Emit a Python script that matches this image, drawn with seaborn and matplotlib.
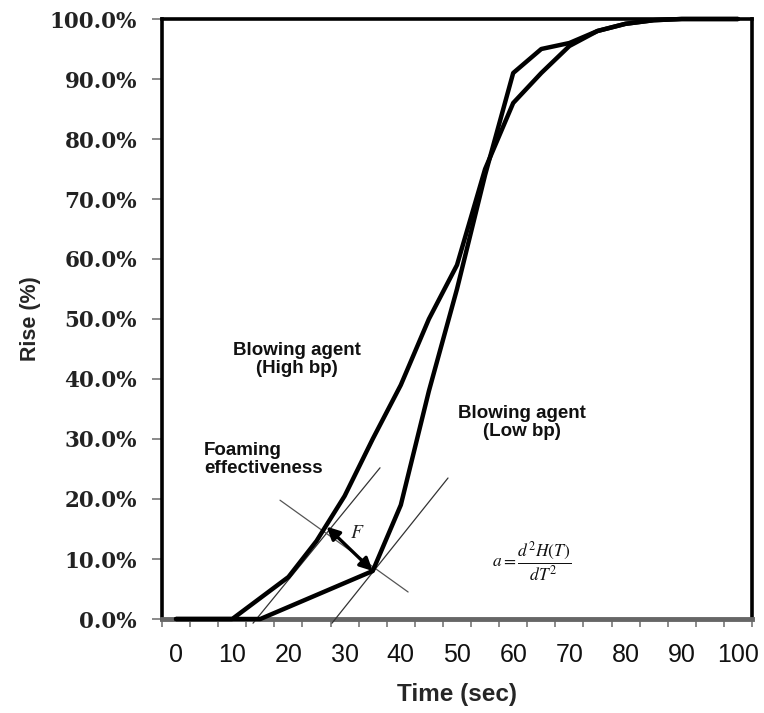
import numpy as np
import pandas as pd
import seaborn as sns
import matplotlib
matplotlib.use("Agg")
import matplotlib.pyplot as plt
from matplotlib.ticker import PercentFormatter, FixedLocator

# ---- data ----
time_sec = [0, 5, 10, 15, 20, 25, 30, 35, 40, 45, 50, 55, 60, 65, 70, 75, 80, 85, 90, 95, 100]
rise_high_bp = [0, 0, 0, 3.5, 7, 13, 20.5, 30, 39, 50, 59, 75, 86, 91, 95.5, 98, 99.2, 99.8, 100, 100, 100]
rise_low_bp = [0, 0, 0, 0, 2, 4, 6, 8, 19, 38, 55, 74, 91, 95, 96, 98, 99.2, 99.8, 100, 100, 100]
x_tick_labels = ["0", "10", "20", "30", "40", "50", "60", "70", "80", "90", "100"]
y_ticks = [0, 10, 20, 30, 40, 50, 60, 70, 80, 90, 100]

# annotation geometry (data units: seconds, %)
tangent_high_x = [13.7, 36.3]
tangent_high_y = [-0.7, 25.2]
tangent_low_x = [27.75, 48.4]
tangent_low_y = [-0.7, 23.5]
normal_x = [18.5, 41.3]
normal_y = [19.8, 4.5]
arrow_start = (26.8, 15.4)
arrow_end = (35.0, 8.0)

df = pd.DataFrame({
    "Time": time_sec * 2,
    "Rise": rise_high_bp + rise_low_bp,
    "Agent": ["High bp"] * len(time_sec) + ["Low bp"] * len(time_sec),
})

sns.set_theme(style="white")
plt.rcParams["font.family"] = ["Liberation Sans", "DejaVu Sans"]

fig = plt.figure(figsize=(7.64, 7.13), dpi=100)
ax = fig.add_axes([162 / 764, 1 - 619 / 713, 590 / 764, 600 / 713])

sns.lineplot(data=df, x="Time", y="Rise", hue="Agent", palette=["black", "black"],
             linewidth=3.2, legend=False, ax=ax, clip_on=False, zorder=5)
for ln in ax.get_lines():
    ln.set_solid_capstyle("round")
    ln.set_solid_joinstyle("round")

# tangent and normal lines
ax.plot(tangent_high_x, tangent_high_y, color="#333333", lw=0.9, clip_on=False, zorder=3)
ax.plot(tangent_low_x, tangent_low_y, color="#333333", lw=0.9, clip_on=False, zorder=3)
ax.plot(normal_x, normal_y, color="#555555", lw=0.9, zorder=3)
ax.annotate("", xy=arrow_end, xytext=arrow_start,
            arrowprops=dict(arrowstyle="<|-|>", color="black", lw=2.4,
                            mutation_scale=19, shrinkA=0, shrinkB=0), zorder=6)

# texts
ax.text(21.5, 43.2, "Blowing agent\n(High bp)", ha="center", va="center",
        fontsize=13.5, fontweight="bold", color="#111111", linespacing=1.1)
ax.text(61.6, 32.7, "Blowing agent\n(Low bp)", ha="center", va="center",
        fontsize=13.5, fontweight="bold", color="#111111", linespacing=1.1)
ax.text(5.0, 26.6, "Foaming\neffectiveness", ha="left", va="center",
        fontsize=13.5, fontweight="bold", color="#111111", linespacing=1.1)
ax.text(32.2, 14.2, "$F$", ha="center", va="center", fontsize=14,
        math_fontfamily="stix", color="#222222")
ax.text(56.3, 9.6, r"$a=\dfrac{d^2H(T)}{dT^2}$", ha="left", va="center",
        fontsize=12.5, color="#111111", math_fontfamily="stix")

# axes limits and ticks
ax.set_xlim(-2.5, 102.5)
ax.set_ylim(0, 100)
ax.xaxis.set_major_locator(FixedLocator(list(range(0, 101, 10))))
ax.set_xticklabels(x_tick_labels)
ax.xaxis.set_minor_locator(FixedLocator(list(np.arange(-2.5, 103, 5))))
ax.set_yticks(y_ticks)
ax.yaxis.set_major_formatter(PercentFormatter(100, decimals=1))

ax.tick_params(axis="x", which="major", length=0, pad=17)
ax.tick_params(axis="x", which="minor", length=6, width=1.2, color="#777777", direction="out", bottom=True)
ax.tick_params(axis="y", which="major", length=7, width=1.2, color="#777777", direction="out", left=True, pad=11)

for lab in ax.get_xticklabels():
    lab.set_family(["Liberation Sans Narrow", "Liberation Sans", "DejaVu Sans"])
    lab.set_fontsize(18)
    lab.set_color("#111111")
for lab in ax.get_yticklabels():
    lab.set_family(["DejaVu Serif"])
    lab.set_fontweight("bold")
    lab.set_fontsize(15.5)
    lab.set_color("#222222")

ax.set_xlabel("Time (sec)", fontsize=17.5, fontweight="bold", labelpad=12,
              family=["Liberation Sans Narrow", "Liberation Sans", "DejaVu Sans"])
ax.set_ylabel("Rise (%)", fontsize=15.5, fontweight="bold", labelpad=6)

for side in ["top", "right", "left"]:
    ax.spines[side].set_color("black")
    ax.spines[side].set_linewidth(2.6)
ax.spines["bottom"].set_color("#666666")
ax.spines["bottom"].set_linewidth(3.5)

fig.savefig("out.png", dpi=100)
